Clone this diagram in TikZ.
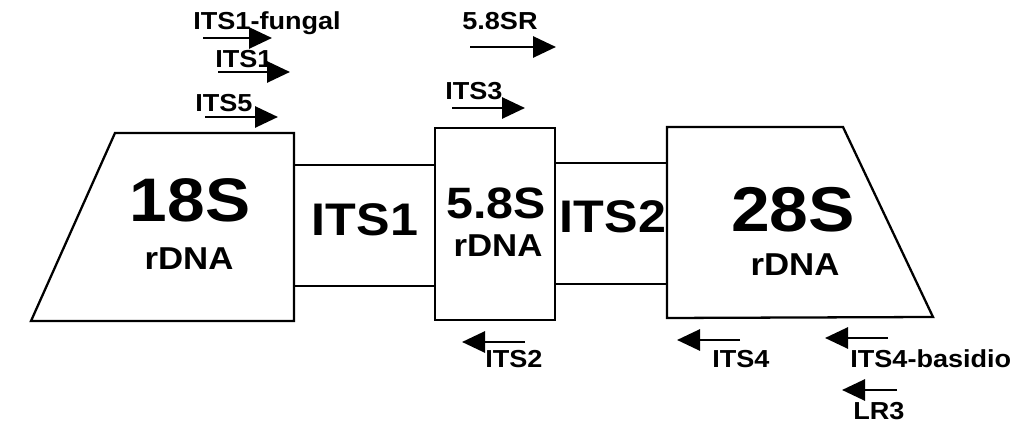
\documentclass[tikz,border=0pt]{standalone}
\usepackage{fontspec}
\setmainfont{Liberation Sans}[FakeStretch=1.1]
\usetikzlibrary{arrows.meta}

\tikzset{
  region/.style={draw, line width=1.3pt},
  primer/.style={line width=1.6pt, -{Triangle[length=0.46cm,width=0.42cm]}},
  plabel/.style={font=\bfseries\fontsize{14}{16}\selectfont, inner sep=0pt, anchor=base west},
  gene/.style={font=\bfseries\fontsize{35}{40}\selectfont, inner sep=0pt},
  spacer/.style={font=\bfseries\fontsize{26}{30}\selectfont, inner sep=0pt},
  rdna/.style={font=\bfseries\fontsize{18}{20}\selectfont, inner sep=0pt},
}

\begin{document}
\begin{tikzpicture}
\useasboundingbox (0,0) rectangle (20.4,8.46);

% Abschnitte
\draw[region] (0.62,2.04) -- (2.30,5.80) -- (5.88,5.80) -- (5.88,2.04) -- cycle;
\draw[region] (5.88,2.74) rectangle (8.70,5.16);
\draw[region] (8.70,2.06) rectangle (11.10,5.90);
\draw[region] (11.10,2.78) rectangle (13.34,5.20);
\draw[region] (13.34,2.10) -- (13.34,5.92) -- (16.86,5.92) -- (18.66,2.12) -- cycle;

% Beschriftung der Abschnitte
\node[gene] (s18) at (3.80,4.46) {18S};
\node[rdna] (r18) at (3.78,3.28) {rDNA};
\node[spacer] (its1) at (7.30,4.06) {ITS1};
\node[spacer, font=\bfseries\fontsize{25}{30}\selectfont] (s58) at (9.92,4.40) {5.8S};
\node[rdna] (r58) at (9.96,3.54) {rDNA};
\node[spacer] (its2) at (12.26,4.12) {ITS2};
\node[gene, font=\bfseries\fontsize{36}{40}\selectfont] (s28) at (15.86,4.26) {28S};
\node[rdna] (r28) at (15.90,3.16) {rDNA};

% Primer vorwaerts
\node[plabel] (lfungal) at (3.86,7.86) {ITS1-fungal};
\node[plabel] (lits1) at (4.30,7.10) {ITS1};
\node[plabel] (lits5) at (3.90,6.22) {ITS5};
\node[plabel] (l58sr) at (9.24,7.86) {5.8SR};
\node[plabel] (lits3) at (8.90,6.46) {ITS3};

\coordinate (fungalA) at (4.06,7.70);  \coordinate (fungalB) at (5.44,7.70);
\coordinate (its1A) at (4.36,7.02);    \coordinate (its1B) at (5.80,7.02);
\coordinate (its5A) at (4.10,6.12);    \coordinate (its5B) at (5.56,6.12);
\coordinate (sr58A) at (9.40,7.52);    \coordinate (sr58B) at (11.12,7.52);
\coordinate (its3A) at (9.04,6.30);    \coordinate (its3B) at (10.50,6.30);

\draw[primer] (fungalA) -- (fungalB);
\draw[primer] (its1A) -- (its1B);
\draw[primer] (its5A) -- (its5B);
\draw[primer] (sr58A) -- (sr58B);
\draw[primer] (its3A) -- (its3B);

% Primer rueckwaerts
\node[plabel] (lits2) at (9.70,1.10) {ITS2};
\node[plabel] (lits4) at (14.24,1.10) {ITS4};
\node[plabel] (lbasidio) at (17.00,1.10) {ITS4-basidio};
\node[plabel] (llr3) at (17.06,0.06) {LR3};

\coordinate (its2A) at (10.50,1.62);   \coordinate (its2B) at (9.24,1.62);
\coordinate (its4A) at (14.80,1.66);   \coordinate (its4B) at (13.54,1.66);
\coordinate (basA) at (17.76,1.70);    \coordinate (basB) at (16.50,1.70);
\coordinate (lr3A) at (17.94,0.66);    \coordinate (lr3B) at (16.84,0.66);

\draw[primer] (its2A) -- (its2B);
\draw[primer] (its4A) -- (its4B);
\draw[primer] (basA) -- (basB);
\draw[primer] (lr3A) -- (lr3B);

\end{tikzpicture}
\end{document}
